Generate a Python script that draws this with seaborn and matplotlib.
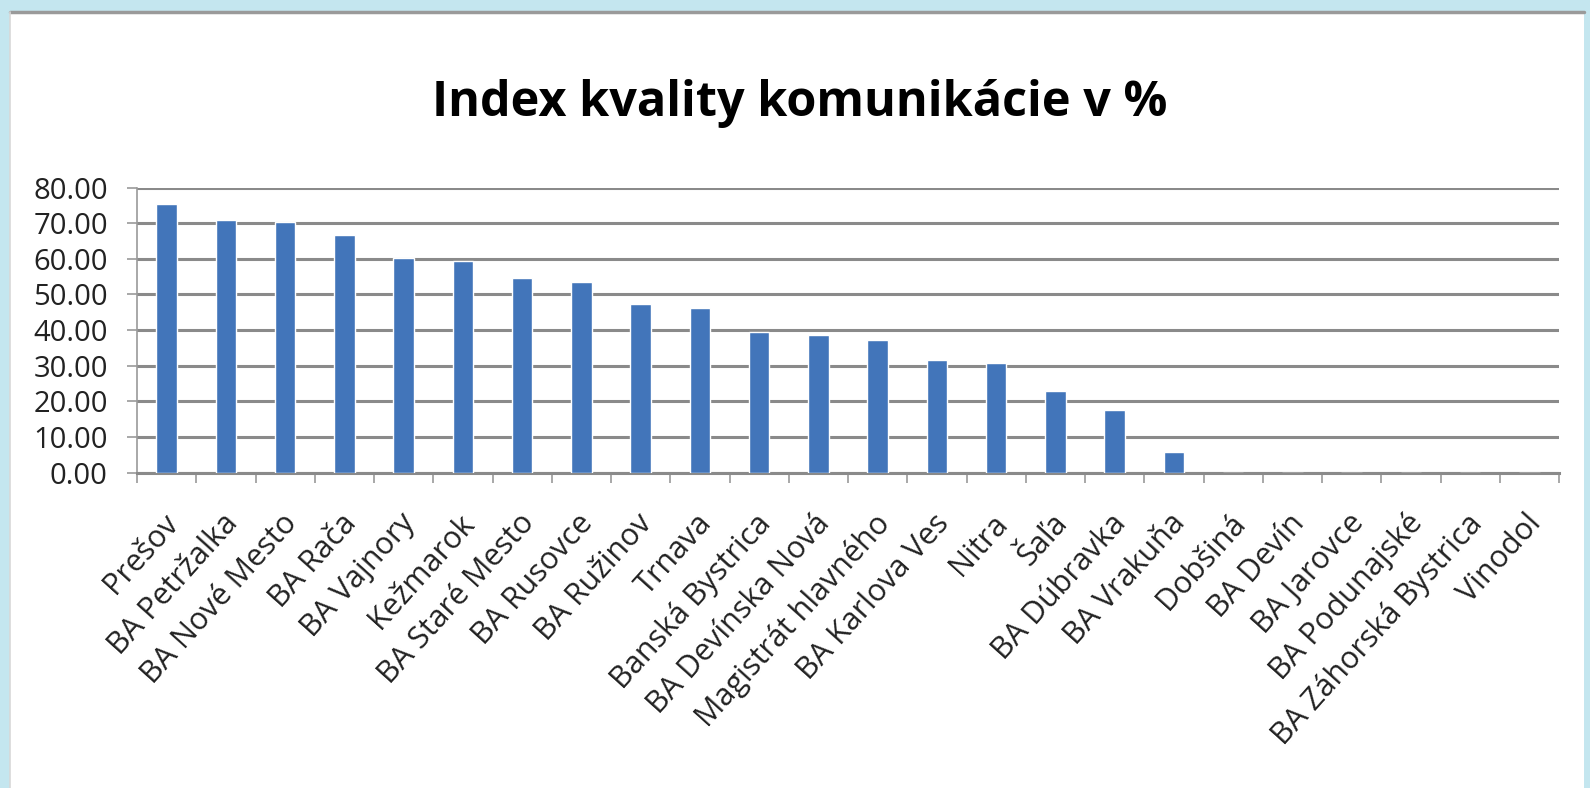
import matplotlib
matplotlib.use("Agg")
import matplotlib.pyplot as plt
from matplotlib import font_manager
from matplotlib.patches import Rectangle
from matplotlib.lines import Line2D
from matplotlib.ticker import FormatStrFormatter, FixedLocator
import matplotlib.transforms as mtransforms
import seaborn as sns
import pandas as pd
import numpy as np

categories = ["Prešov", "BA Petržalka", "BA Nové Mesto", "BA Rača", "BA Vajnory",
              "Kežmarok", "BA Staré Mesto", "BA Rusovce", "BA Ružinov", "Trnava",
              "Banská Bystrica", "BA Devínska Nová", "Magistrát hlavného",
              "BA Karlova Ves", "Nitra", "Šaľa", "BA Dúbravka", "BA Vrakuňa",
              "Dobšiná", "BA Devín", "BA Jarovce", "BA Podunajské",
              "BA Záhorská Bystrica", "Vinodol"]
values = [75.4, 71.0, 70.3, 66.6, 60.3, 59.4, 54.5, 53.5, 47.2, 46.1,
          39.5, 38.6, 37.2, 31.6, 30.7, 23.0, 17.6, 5.7,
          0.0, 0.0, 0.0, 0.0, 0.0, 0.0]
y_ticks = [0, 10, 20, 30, 40, 50, 60, 70, 80]
title = "Index kvality komunikácie v %"

sns.set_theme(style="white")
available = {f.name for f in font_manager.fontManager.ttflist}
base_font = "Open Sans" if "Open Sans" in available else "DejaVu Sans"
title_font = "Liberation Sans Narrow" if "Liberation Sans Narrow" in available else base_font
plt.rcParams["font.family"] = [base_font, "DejaVu Sans"]

fig = plt.figure(figsize=(15.9, 7.88), dpi=100)
fig.patch.set_facecolor("#c4e6ef")
W, H = 1590, 788
# white panel
fig.patches.append(Rectangle((10 / W, 0), (1584 - 10) / W, (H - 12) / H,
                             transform=fig.transFigure, facecolor="white",
                             edgecolor="none", zorder=-5))
fig.lines.append(Line2D([10 / W, 1584 / W], [(H - 12) / H, (H - 12) / H],
                        transform=fig.transFigure, color="#9a9a9a", lw=2.5, zorder=-4))
fig.lines.append(Line2D([10 / W, 10 / W], [0, (H - 12) / H],
                        transform=fig.transFigure, color="#d8d8d8", lw=1.2, zorder=-4))

ax = fig.add_axes([137 / W, 1 - 472.6 / H, (1559 - 137) / W, (472.6 - 187.6) / H])
ax.set_facecolor("none")
ax.set_zorder(2)

df = pd.DataFrame({"cat": categories, "val": values})
sns.barplot(data=df, x="cat", y="val", ax=ax, color="#4275BA", width=0.35,
            saturation=1, zorder=3, order=categories)

n = len(categories)
ax.set_xlim(-0.5, n - 0.5)
ax.set_ylim(0, 80)
ax.yaxis.set_major_locator(FixedLocator(y_ticks))
ax.yaxis.set_major_formatter(FormatStrFormatter("%.2f"))
ax.grid(axis="y", color="#8a8a8a", lw=2.2, zorder=1)
ax.set_axisbelow(True)

for s in ["top", "right"]:
    ax.spines[s].set_visible(False)
ax.spines["left"].set_color("#9a9a9a")
ax.spines["left"].set_linewidth(1.2)
ax.spines["bottom"].set_color("#8a8a8a")
ax.spines["bottom"].set_linewidth(2.2)

ax.tick_params(axis="y", which="major", length=7, width=1.2, color="#9a9a9a",
               labelsize=21, labelcolor="#222222", pad=14, left=True)
ax.set_xticks(np.arange(n))
ax.set_xticklabels(categories, rotation=48, ha="right", va="center",
                   rotation_mode="anchor")
ax.tick_params(axis="x", which="major", length=0, labelsize=22,
               labelcolor="#222222", pad=33)
offset = mtransforms.ScaledTranslation(7 / 100, 0, fig.dpi_scale_trans)
for lbl in ax.get_xticklabels():
    lbl.set_transform(lbl.get_transform() + offset)
ax.set_xticks(np.arange(n + 1) - 0.5, minor=True)
ax.tick_params(axis="x", which="minor", length=7, width=1.2, color="#9a9a9a",
               bottom=True)
ax.set_xlabel("")
ax.set_ylabel("")

fig.text(800 / W, 1 - 104 / H, title, ha="center", va="center",
         fontsize=35, fontweight="bold", color="black",
         family=[title_font, "DejaVu Sans"])

fig.savefig("out.png", dpi=100)
